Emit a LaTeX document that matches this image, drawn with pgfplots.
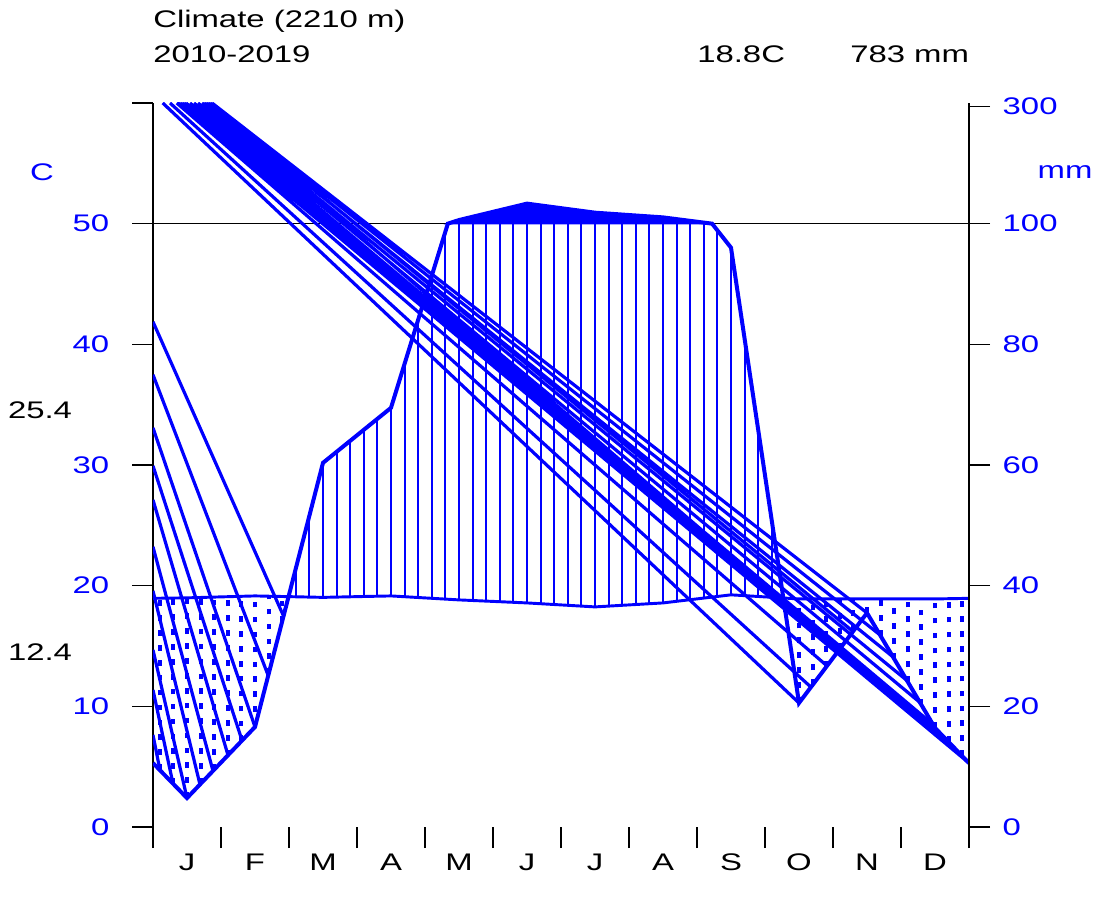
\documentclass[border=0pt]{standalone}
\usepackage{fontspec}
\setmainfont{Liberation Sans}
\usepackage{graphicx}
\usepackage{pgfplots}
\pgfplotsset{compat=1.18}
\definecolor{pblue}{RGB}{0,0,255}
\newcommand\sx[1]{\scalebox{1.37}[1]{#1}}
\newcommand\ft{\fontsize{18}{21}\selectfont}
\begin{document}
\begin{tikzpicture}
\path[use as bounding box] (-114.75pt,-57pt) rectangle (706.5pt,620.25pt);
\begin{axis}[at={(0pt,0pt)}, anchor=south west, scale only axis, width=612pt, height=543pt,
 xmin=0,xmax=12,ymin=0,ymax=60,
 axis y line*=left, axis x line*=bottom, x axis line style={draw=none},
 y axis line style={black,line width=1.1pt},
 tick align=outside, major tick length=15.75pt,
 tick style={black,line width=1.1pt},
 xtick={0,1,...,12}, xticklabels={},
 ytick={0,10,...,60}, yticklabels={\sx{0},\sx{10},\sx{20},\sx{30},\sx{40},\sx{50},},
 yticklabel style={text=pblue,font=\ft,xshift=-13.5pt},
 unbounded coords=jump, clip=true]
% 50 C / 100 mm line
\addplot[black,line width=1pt] coordinates {(0,50) (12,50)};
% long diagonal strokes
\addplot[pblue,line width=2.4pt] coordinates {
(0.143,60)(9.5,10.28) (1,nan)
(0.25,60)(9.676,11.59) (1,nan)
(0.349,60)(9.912,13.35) (1,nan)
(0.368,60)(12,5.3) (1,nan)
(0.397,60)(12,5.3) (1,nan)
(0.426,60)(12,5.3) (1,nan)
(0.456,60)(12,5.3) (1,nan)
(0.485,60)(12,5.3) (1,nan)
(0.544,60)(11.72,6.93) (1,nan)
(0.603,60)(11.471,8.49) (1,nan)
(0.662,60)(11.279,10.32) (1,nan)
(0.721,60)(11.088,12.14) (1,nan)
(0.75,60)(10.103,14.78) (1,nan)
(0.779,60)(10.882,14.10) (1,nan)
(0.809,60)(10.294,16.21) (1,nan)
(0.838,60)(10.691,15.92) (1,nan)
(0.868,60)(10.5,17.74)
};
% short diagonal strokes on the left
\addplot[pblue,line width=2.4pt] coordinates {
(0,41.87)(1.912,17.58) (1,nan)
(0,37.48)(1.691,12.6) (1,nan)
(0,33.08)(1.5,8.29) (1,nan)
(0,29.93)(1.31,7.16) (1,nan)
(0,27.11)(1.103,5.95) (1,nan)
(0,23.22)(0.882,4.65) (1,nan)
(0,19.57)(0.691,3.52) (1,nan)
(0,14.68)(0.5,2.4) (1,nan)
(0,11.36)(0.294,3.59) (1,nan)
(0,7.63)(0.103,4.70)
};
% humid period: vertical lines
\addplot[pblue,line width=1.5pt] coordinates {
(2.1,19.08)(2.1,21.42) (2.1,nan)
(2.3,19.05)(2.3,25.80) (2.3,nan)
(2.5,19.03)(2.5,30.18) (2.5,nan)
(2.7,19.05)(2.7,31.09) (2.7,nan)
(2.9,19.08)(2.9,32.00) (2.9,nan)
(3.1,19.10)(3.1,32.92) (3.1,nan)
(3.3,19.13)(3.3,33.83) (3.3,nan)
(3.5,19.15)(3.5,34.74) (3.5,nan)
(3.7,19.08)(3.7,38.39) (3.7,nan)
(3.9,19.02)(3.9,42.04) (3.9,nan)
(4.1,18.95)(4.1,45.69) (4.1,nan)
(4.3,18.89)(4.3,49.34) (4.3,nan)
(4.5,18.82)(4.5,50) (4.5,nan)
(4.7,18.77)(4.7,50) (4.7,nan)
(4.9,18.72)(4.9,50) (4.9,nan)
(5.1,18.67)(5.1,50) (5.1,nan)
(5.3,18.62)(5.3,50) (5.3,nan)
(5.5,18.57)(5.5,50) (5.5,nan)
(5.7,18.50)(5.7,50) (5.7,nan)
(5.9,18.44)(5.9,50) (5.9,nan)
(6.1,18.37)(6.1,50) (6.1,nan)
(6.3,18.31)(6.3,50) (6.3,nan)
(6.5,18.24)(6.5,50) (6.5,nan)
(6.7,18.31)(6.7,50) (6.7,nan)
(6.9,18.37)(6.9,50) (6.9,nan)
(7.1,18.44)(7.1,50) (7.1,nan)
(7.3,18.50)(7.3,50) (7.3,nan)
(7.5,18.57)(7.5,50) (7.5,nan)
(7.7,18.70)(7.7,50) (7.7,nan)
(7.9,18.84)(7.9,50) (7.9,nan)
(8.1,18.97)(8.1,50) (8.1,nan)
(8.3,19.11)(8.3,49.44) (8.3,nan)
(8.5,19.24)(8.5,48.01) (8.5,nan)
(8.7,19.17)(8.7,40.46) (8.7,nan)
(8.9,19.10)(8.9,32.91) (8.9,nan)
(9.1,19.04)(9.1,25.37)
};
% arid period: dotted vertical lines
\addplot[pblue,line width=3.1pt,dash pattern=on 4.3pt off 6.9pt] coordinates {
(0.1,4.72)(0.1,18.96) (0.1,nan)
(0.3,3.56)(0.3,18.97) (0.3,nan)
(0.5,2.40)(0.5,18.99) (0.5,nan)
(0.7,3.58)(0.7,19.02) (0.7,nan)
(0.9,4.76)(0.9,19.05) (0.9,nan)
(1.1,5.93)(1.1,19.09) (1.1,nan)
(1.3,7.11)(1.3,19.12) (1.3,nan)
(1.5,8.29)(1.5,19.15) (1.5,nan)
(1.7,12.67)(1.7,19.13) (1.7,nan)
(1.9,17.05)(1.9,19.10) (1.9,nan)
(9.3,17.83)(9.3,18.97) (9.3,nan)
(9.5,10.28)(9.5,18.9) (9.5,nan)
(9.7,11.77)(9.7,18.9) (9.7,nan)
(9.9,13.26)(9.9,18.9) (9.9,nan)
(10.1,14.76)(10.1,18.9) (10.1,nan)
(10.3,16.25)(10.3,18.9) (10.3,nan)
(10.5,17.74)(10.5,18.9) (10.5,nan)
(10.7,15.83)(10.7,18.9) (10.7,nan)
(10.9,13.93)(10.9,18.9) (10.9,nan)
(11.1,12.02)(11.1,18.9) (11.1,nan)
(11.3,10.12)(11.3,18.9) (11.3,nan)
(11.5,8.21)(11.5,18.9) (11.5,nan)
(11.7,7.05)(11.7,18.92) (11.7,nan)
(11.9,5.88)(11.9,18.94)
};
% precipitation above 100 mm (compressed scale), solid
\addplot[pblue,fill=pblue,line width=1pt] coordinates {
(4.336,50)(4.5,50.3)(5.5,51.66)(6.5,50.91)(7.5,50.52)(8.222,50)} -- cycle;
% temperature
\addplot[pblue,line width=2.2pt] coordinates {
(0,18.95)(0.5,18.99)(1.5,19.15)(2.5,19.03)(3.5,19.15)(4.5,18.82)(5.5,18.57)
(6.5,18.24)(7.5,18.57)(8.5,19.24)(9.5,18.9)(10.5,18.9)(11.5,18.9)(12,18.95)};
% precipitation
\addplot[pblue,line width=3pt,line join=miter] coordinates {
(0,5.3)(0.5,2.4)(1.5,8.29)(2.5,30.18)(3.5,34.74)(4.336,50)(4.5,50.3)(5.5,51.66)
(6.5,50.91)(7.5,50.52)(8.222,50)(8.5,48.01)(9.5,10.28)(10.5,17.74)(11.5,8.21)(12,5.3)};
\end{axis}
\begin{axis}[at={(0pt,0pt)}, anchor=south west, scale only axis, width=612pt, height=543pt,
 xmin=0,xmax=12,ymin=0,ymax=60,
 axis y line*=right, axis x line=none,
 y axis line style={black,line width=1.1pt},
 tick align=outside, major tick length=15.75pt,
 tick style={black,line width=1.1pt},
 ytick={0,10,20,30,40,50,59.7}, yticklabels={\sx{0},\sx{20},\sx{40},\sx{60},\sx{80},\sx{100},\sx{300}},
 yticklabel style={text=pblue,font=\ft,xshift=6pt}]
\addplot[draw=none] coordinates {(0,0)};
\end{axis}
\node[anchor=base west,font=\ft,inner sep=0pt] at (0pt,599.25pt) {\sx{Climate (2210 m)}};
\node[anchor=base west,font=\ft,inner sep=0pt] at (0pt,573pt) {\sx{2010-2019}};
\node[anchor=base west,font=\ft,inner sep=0pt] at (408pt,573pt) {\sx{18.8C}};
\node[anchor=base west,font=\ft,inner sep=0pt] at (522.75pt,573pt) {\sx{783 mm}};
\node[font=\ft,text=pblue] at (-83.25pt,491.25pt) {\sx{C}};
\node[font=\ft,text=pblue] at (684pt,491.25pt) {\sx{mm}};
\node[font=\ft] at (-84.75pt,312.75pt) {\sx{25.4}};
\node[font=\ft] at (-84.75pt,131.25pt) {\sx{12.4}};
\foreach \m [count=\i from 0] in {J,F,M,A,M,J,J,A,S,O,N,D} {
  \node[font=\ft] at ({25.5pt+51pt*\i},-26.25pt) {\sx{\m}};
}
\end{tikzpicture}
\end{document}
